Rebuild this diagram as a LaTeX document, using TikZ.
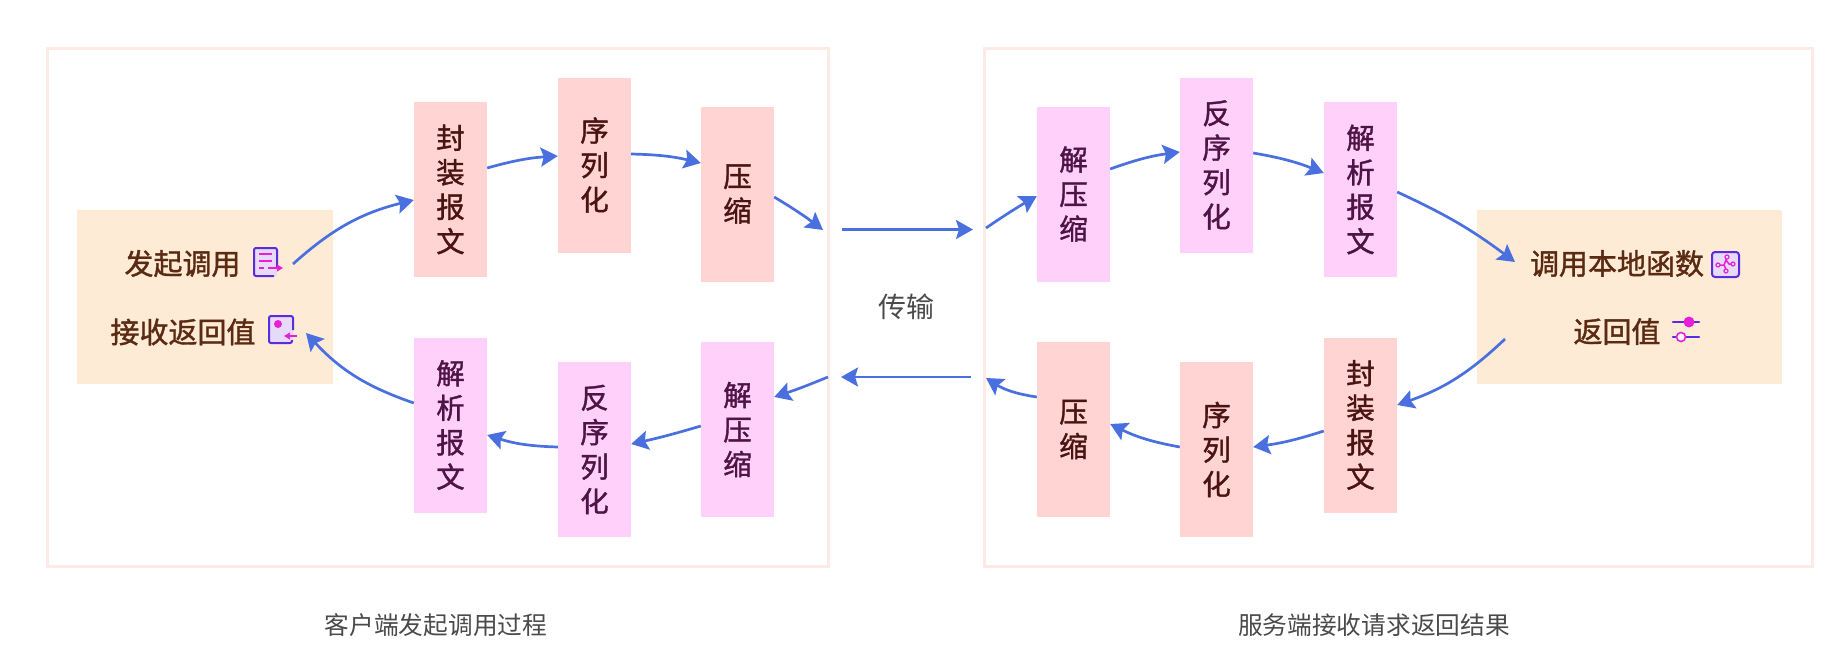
\documentclass[tikz,border=0pt]{standalone}
\usepackage{fontspec}
\setmainfont{Noto Sans CJK SC}
\newfontfamily\medfont[FakeBold=1.3]{Noto Sans CJK SC}
\usetikzlibrary{arrows.meta}
\definecolor{framec}{HTML}{FDE9E6}
\definecolor{orangec}{HTML}{FEEBD6}
\definecolor{pinkc}{HTML}{FFD4D2}
\definecolor{purplec}{HTML}{FFD1FA}
\definecolor{browntxt}{HTML}{5A2A12}
\definecolor{darkred}{HTML}{4A1414}
\definecolor{purptxt}{HTML}{4E1446}
\definecolor{arrowc}{HTML}{4A70E0}
\definecolor{labelc}{HTML}{4A4A4A}
\definecolor{iconv}{HTML}{5B2BE0}
\definecolor{iconm}{HTML}{E81FD8}
\definecolor{iconf}{HTML}{E6DAF8}
\tikzset{
  frameb/.style={draw=framec,line width=2.6pt,fill=white,minimum width=#1,minimum height=518.5pt,inner sep=0pt},
  stepbase/.style={minimum width=73pt,minimum height=175pt,inner sep=0pt,align=center,font=\medfont\fontsize{28.5}{34.5}\selectfont},
  pinkbox/.style={stepbase,fill=pinkc,text=darkred},
  purplebox/.style={stepbase,fill=purplec,text=purptxt},
  orangebox/.style={fill=orangec,minimum height=174.5pt,minimum width=#1,inner sep=0pt},
  endtxt/.style={text=browntxt,inner sep=0pt,font=\medfont\fontsize{29}{30}\selectfont},
  captxt/.style={text=labelc,inner sep=0pt,font=\fontsize{24.7}{28}\selectfont},
  flow/.style={draw=arrowc,line width=2.7pt,-{Stealth[length=17pt,width=19pt,inset=3pt]}},
  iconline/.style={draw=iconv,line width=2pt},
  iconmag/.style={draw=iconm,line width=2pt},
  iconarrow/.style={draw=iconm,line width=2pt,-{Stealth[length=6pt,width=7pt,inset=0.5pt]}},
}
\begin{document}
\begin{tikzpicture}[x=1pt,y=-1pt]
\useasboundingbox (0,0) rectangle (1845,667);
% frames
\node[frameb=781pt] (fl) at (438,307.5) {};
\node[frameb=828pt] (fr) at (1398.5,307.5) {};
% end boxes
\node[orangebox=256pt] (ol) at (205,297) {};
\node[orangebox=305pt] (or) at (1629.5,297) {};
% client, top row
\node[pinkbox] (a1) at (450.5,189.5) {封\\装\\报\\文};
\node[pinkbox] (a2) at (594.5,165) {序\\列\\化};
\node[pinkbox] (a3) at (737.5,194) {压\\缩};
% client, bottom row
\node[purplebox] (b3) at (737.5,429.5) {解\\压\\缩};
\node[purplebox] (b2) at (594.5,449.5) {反\\序\\列\\化};
\node[purplebox] (b1) at (450.5,425) {解\\析\\报\\文};
% server, top row
\node[purplebox] (c1) at (1073.5,194) {解\\压\\缩};
\node[purplebox] (c2) at (1216.5,165) {反\\序\\列\\化};
\node[purplebox] (c3) at (1360.5,189.5) {解\\析\\报\\文};
% server, bottom row
\node[pinkbox] (d3) at (1360.5,425) {封\\装\\报\\文};
\node[pinkbox] (d2) at (1216.5,449.5) {序\\列\\化};
\node[pinkbox] (d1) at (1073.5,429.5) {压\\缩};
% texts
\node[endtxt] (t1) at (182.5,263.5) {发起调用};
\node[endtxt] (t2) at (183,332) {接收返回值};
\node[endtxt] (t3) at (1617,263.5) {调用本地函数};
\node[endtxt] (t4) at (1617,331.5) {返回值};
\node[captxt] (trans) at (906,306.5) {\fontsize{28}{30}\selectfont 传输};
\node[captxt] (capl) at (436,625.5) {客户端发起调用过程};
\node[captxt] (capr) at (1374,625.5) {服务端接收请求返回结果};
% free ends beside the frames
\coordinate (p1) at (823,230);
\coordinate (p2) at (842,229.5);
\coordinate (p3) at (973,229.5);
\coordinate (p4) at (986,228);
\coordinate (q1) at (986,378);
\coordinate (q2) at (971,377);
\coordinate (q3) at (841,377);
\coordinate (q4) at (828,377);
% connectors: request path
\draw[flow] ([xshift=88pt,yshift=33pt]ol.center) to[bend left=14] ([yshift=-10.5pt]a1.west);
\draw[flow] ([yshift=21.5pt]a1.east) to[bend left=6] ([yshift=9pt]a2.west);
\draw[flow] ([yshift=11pt]a2.east) to[bend left=6] ([yshift=31pt]a3.west);
\draw[flow] ([yshift=-3pt]a3.east) to[bend left=3] (p1);
\draw[flow] (p2) -- (p3);
\draw[flow] (p4) to[bend left=2] ([yshift=-2pt]c1.west);
\draw[flow] ([yshift=25pt]c1.east) to[bend left=6] ([yshift=13pt]c2.west);
\draw[flow] ([yshift=12pt]c2.east) to[bend left=6] ([yshift=16.5pt]c3.west);
\draw[flow] ([yshift=-2.5pt]c3.east) to[bend left=6] ([xshift=-114.5pt,yshift=35pt]or.center);
% connectors: response path
\draw[flow] ([xshift=-124.5pt,yshift=-42pt]or.center) to[bend left=12] ([yshift=20pt]d3.east);
\draw[flow] ([yshift=-6pt]d3.west) to[bend left=5] ([yshift=2.5pt]d2.east);
\draw[flow] ([yshift=2.5pt]d2.west) to[bend left=8] ([yshift=5.5pt]d1.east);
\draw[flow] ([yshift=32.5pt]d1.west) to[bend left=12] (q1);
\draw[flow] (q2) -- (q3);
\draw[flow] (q4) to[bend left=2] ([yshift=32.5pt]b3.east);
\draw[flow] ([yshift=3.5pt]b3.west) to[bend left=2] ([yshift=5.5pt]b2.east);
\draw[flow] ([yshift=2.5pt]b2.west) to[bend left=8] ([yshift=-10pt]b1.east);
\draw[flow] ([yshift=22pt]b1.west) to[bend left=14] ([xshift=101pt,yshift=-36pt]ol.center);
% icon: send
\fill[iconf] (254,248) rectangle (277,276);
\draw[iconline] (277,268) -- (277,250) arc[start angle=0,end angle=-90,radius=2] -- (256,248) arc[start angle=-90,end angle=-180,radius=2] -- (254,274) arc[start angle=180,end angle=90,radius=2] -- (274,276);
\draw[iconmag] (259,254) -- (272,254) (259,260.5) -- (272,260.5) (259,268) -- (264,268);
\draw[iconarrow] (268,268) -- (283,268);
% icon: receive
\fill[iconf] (269,316) rectangle (293,343);
\draw[iconline] (293,330) -- (293,318) arc[start angle=0,end angle=-90,radius=2] -- (271,316) arc[start angle=-90,end angle=-180,radius=2] -- (269,341) arc[start angle=180,end angle=90,radius=2] -- (290,343) arc[start angle=90,end angle=0,radius=2] -- (292,340);
\fill[iconm] (278,324) circle[radius=4pt];
\draw[iconarrow] (297,336) -- (284,336);
% icon: function
\draw[iconline,fill=iconf,rounded corners=3pt] (1712,252) rectangle (1739,277);
\draw[iconmag,line width=1.5pt] (1718,265) -- (1724,265) -- (1726,260) -- (1727,257) (1726,260) -- (1729,264) -- (1733,264) (1726,270) -- (1725,267) -- (1724,265);
\draw[iconm,line width=1.2pt,fill=iconf] (1718,265) circle[radius=2pt] (1727,257) circle[radius=2pt] (1733,264) circle[radius=2pt] (1726,271) circle[radius=2pt];
% icon: sliders
\draw[iconline,line width=2.6pt,line cap=round] (1673,322) -- (1699,322) (1673,337) -- (1699,337);
\fill[iconm] (1689,322) circle[radius=5.5pt];
\draw[iconm,line width=1.6pt,fill=white] (1681,337) circle[radius=4.5pt];
\end{tikzpicture}
\end{document}
